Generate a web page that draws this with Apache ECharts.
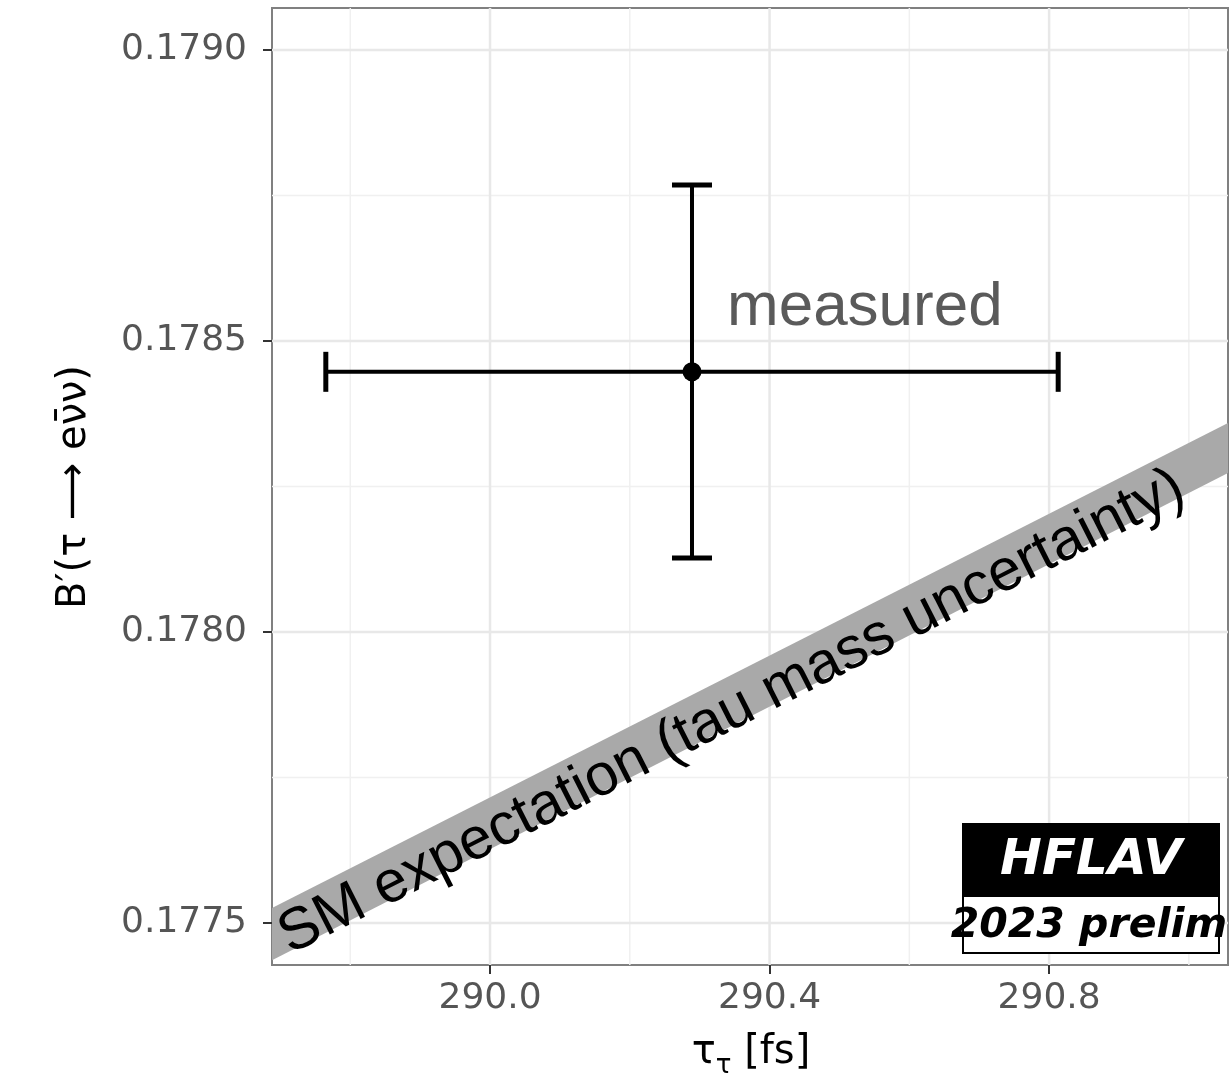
<!DOCTYPE html>
<html><head><meta charset="utf-8">
<script src="https://cdn.jsdelivr.net/npm/echarts@6/dist/echarts.min.js"></script>
<style>html,body{margin:0;padding:0;background:#fff}#c{width:1230px;height:1089px}</style>
</head><body><div id="c"></div>
<script>
// ---- data ----
const xRange = [289.688, 291.056];
const yRange = [0.177428, 0.179072];
const xTicks = [290.0, 290.4, 290.8];
const yTicks = [0.1775, 0.1780, 0.1785, 0.1790];
const xMinorGrid = [289.8, 290.2, 290.6, 291.0];
const yMinorGrid = [0.17775, 0.17825, 0.17875];
const measX = [290.289];
const measY = [0.178447];
const measXLo = [289.765];
const measXHi = [290.813];
const measYLo = [0.178127];
const measYHi = [0.178768];
const bandX = [289.688, 291.056];
const bandLo = [0.177436, 0.178273];
const bandHi = [0.177526, 0.178359];

const chart = echarts.init(document.getElementById('c'), null, {renderer: 'canvas'});
const tickFont = {fontSize: 36, color: '#555555', fontFamily: 'DejaVu Sans'};
const theta = Math.atan2(485, 956);

const option = {
  backgroundColor: '#fff',
  animation: false,
  grid: {left: 272, right: 2, top: 8, bottom: 124, show: true, borderColor: '#808080', borderWidth: 2, backgroundColor: '#fff'},
  xAxis: {
    type: 'value', min: xRange[0], max: xRange[1],
    axisLine: {show: false},
    splitLine: {show: false},
    axisTick: {show: true, customValues: xTicks, length: 9, lineStyle: {color: '#333', width: 2}},
    axisLabel: Object.assign({customValues: xTicks, margin: 16, formatter: v => v.toFixed(1)}, tickFont)
  },
  yAxis: {
    type: 'value', min: yRange[0], max: yRange[1],
    axisLine: {show: false},
    splitLine: {show: false},
    axisTick: {show: true, customValues: yTicks, length: 9, lineStyle: {color: '#333', width: 2}},
    axisLabel: Object.assign({customValues: yTicks, margin: 25, formatter: v => v.toFixed(4)}, tickFont)
  },
  series: [
    {
      type: 'custom', z: 1, silent: true, clip: true,
      data: [[xRange[0], yRange[0]]],
      renderItem(params, api) {
        const children = [];
        const vline = (v, style) => {
          const a = api.coord([v, yRange[0]]), b = api.coord([v, yRange[1]]);
          children.push({type: 'line', shape: {x1: a[0], y1: a[1], x2: b[0], y2: b[1]}, style});
        };
        const hline = (v, style) => {
          const a = api.coord([xRange[0], v]), b = api.coord([xRange[1], v]);
          children.push({type: 'line', shape: {x1: a[0], y1: a[1], x2: b[0], y2: b[1]}, style});
        };
        const minor = {stroke: '#f0f0f0', lineWidth: 1.5};
        const major = {stroke: '#e8e8e8', lineWidth: 2.5};
        xMinorGrid.forEach(v => vline(v, minor));
        yMinorGrid.forEach(v => hline(v, minor));
        xTicks.forEach(v => vline(v, major));
        yTicks.forEach(v => hline(v, major));
        return {type: 'group', children};
      }
    },
    {
      type: 'custom', z: 2, silent: true, clip: true,
      data: [[bandX[0], bandLo[0]]],
      renderItem(params, api) {
        const pts = [];
        for (let i = 0; i < bandX.length; i++) pts.push(api.coord([bandX[i], bandHi[i]]));
        for (let i = bandX.length - 1; i >= 0; i--) pts.push(api.coord([bandX[i], bandLo[i]]));
        return {type: 'polygon', shape: {points: pts}, style: {fill: '#a9a9a9'}};
      }
    },
    {
      type: 'custom', z: 3, silent: true, clip: true,
      data: measX.map((x, i) => [x, measY[i], measXLo[i], measXHi[i], measYLo[i], measYHi[i]]),
      renderItem(params, api) {
        const x = api.value(0), y = api.value(1);
        const l = api.coord([api.value(2), y]), r = api.coord([api.value(3), y]);
        const b = api.coord([x, api.value(4)]), t = api.coord([x, api.value(5)]);
        const cap = 20;
        const st = {stroke: '#000', lineWidth: 4};
        const cs = {stroke: '#000', lineWidth: 5};
        return {type: 'group', children: [
          {type: 'line', shape: {x1: l[0], y1: l[1], x2: r[0], y2: r[1]}, style: st},
          {type: 'line', shape: {x1: l[0], y1: l[1] - cap, x2: l[0], y2: l[1] + cap}, style: cs},
          {type: 'line', shape: {x1: r[0], y1: r[1] - cap, x2: r[0], y2: r[1] + cap}, style: cs},
          {type: 'line', shape: {x1: t[0], y1: t[1], x2: b[0], y2: b[1]}, style: st},
          {type: 'line', shape: {x1: t[0] - cap, y1: t[1], x2: t[0] + cap, y2: t[1]}, style: cs},
          {type: 'line', shape: {x1: b[0] - cap, y1: b[1], x2: b[0] + cap, y2: b[1]}, style: cs}
        ]};
      }
    },
    {
      type: 'scatter', z: 4, silent: true,
      data: measX.map((x, i) => [x, measY[i]]),
      symbol: 'circle', symbolSize: 19,
      itemStyle: {color: '#000', opacity: 1}
    }
  ],
  graphic: [
    {type: 'text', z: 10, x: 727, y: 308, style: {text: 'measured', fontSize: 62, fontFamily: 'Liberation Sans', fill: '#5a5a5a', align: 'left', verticalAlign: 'middle'}},
    {type: 'text', z: 10, x: 283, y: 940, rotation: theta, style: {text: 'SM expectation (tau mass uncertainty)', fontSize: 59, fontFamily: 'Liberation Sans', fill: '#000', align: 'left', verticalAlign: 'middle'}},
    {type: 'rect', z: 10, shape: {x: 962, y: 823, width: 258, height: 72}, style: {fill: '#000'}},
    {type: 'text', z: 11, x: 1091, y: 861, style: {text: 'HFLAV', fontSize: 50, fontWeight: 'bold', fontStyle: 'italic', fontFamily: 'DejaVu Sans', fill: '#fff', align: 'center', verticalAlign: 'middle'}},
    {type: 'rect', z: 10, shape: {x: 963, y: 896, width: 256, height: 57}, style: {fill: '#fff', stroke: '#000', lineWidth: 2}},
    {type: 'text', z: 11, x: 1089, y: 926, style: {text: '2023 prelim', fontSize: 41, fontWeight: 'bold', fontStyle: 'italic', fontFamily: 'DejaVu Sans', fill: '#000', align: 'center', verticalAlign: 'middle'}},
    {type: 'text', z: 10, x: 75, y: 487, rotation: Math.PI / 2, style: {text: 'B\u2032(\u03c4 \u27f6 e\u03bd\u0304\u03bd)', fontSize: 40, fontFamily: 'DejaVu Sans', fill: '#000', align: 'center', verticalAlign: 'middle'}},
    {type: 'text', z: 10, x: 751, y: 1053, style: {
      text: '{m|\u03c4}{s|\u03c4}{m| [fs]}', align: 'center', verticalAlign: 'middle',
      rich: {
        m: {fontSize: 40, lineHeight: 52, fontFamily: 'DejaVu Sans', fill: '#000', verticalAlign: 'middle'},
        s: {fontSize: 26, lineHeight: 20, fontFamily: 'DejaVu Sans', fill: '#000', verticalAlign: 'bottom'}
      }
    }}
  ]
};
chart.setOption(option);
</script>
</body></html>
